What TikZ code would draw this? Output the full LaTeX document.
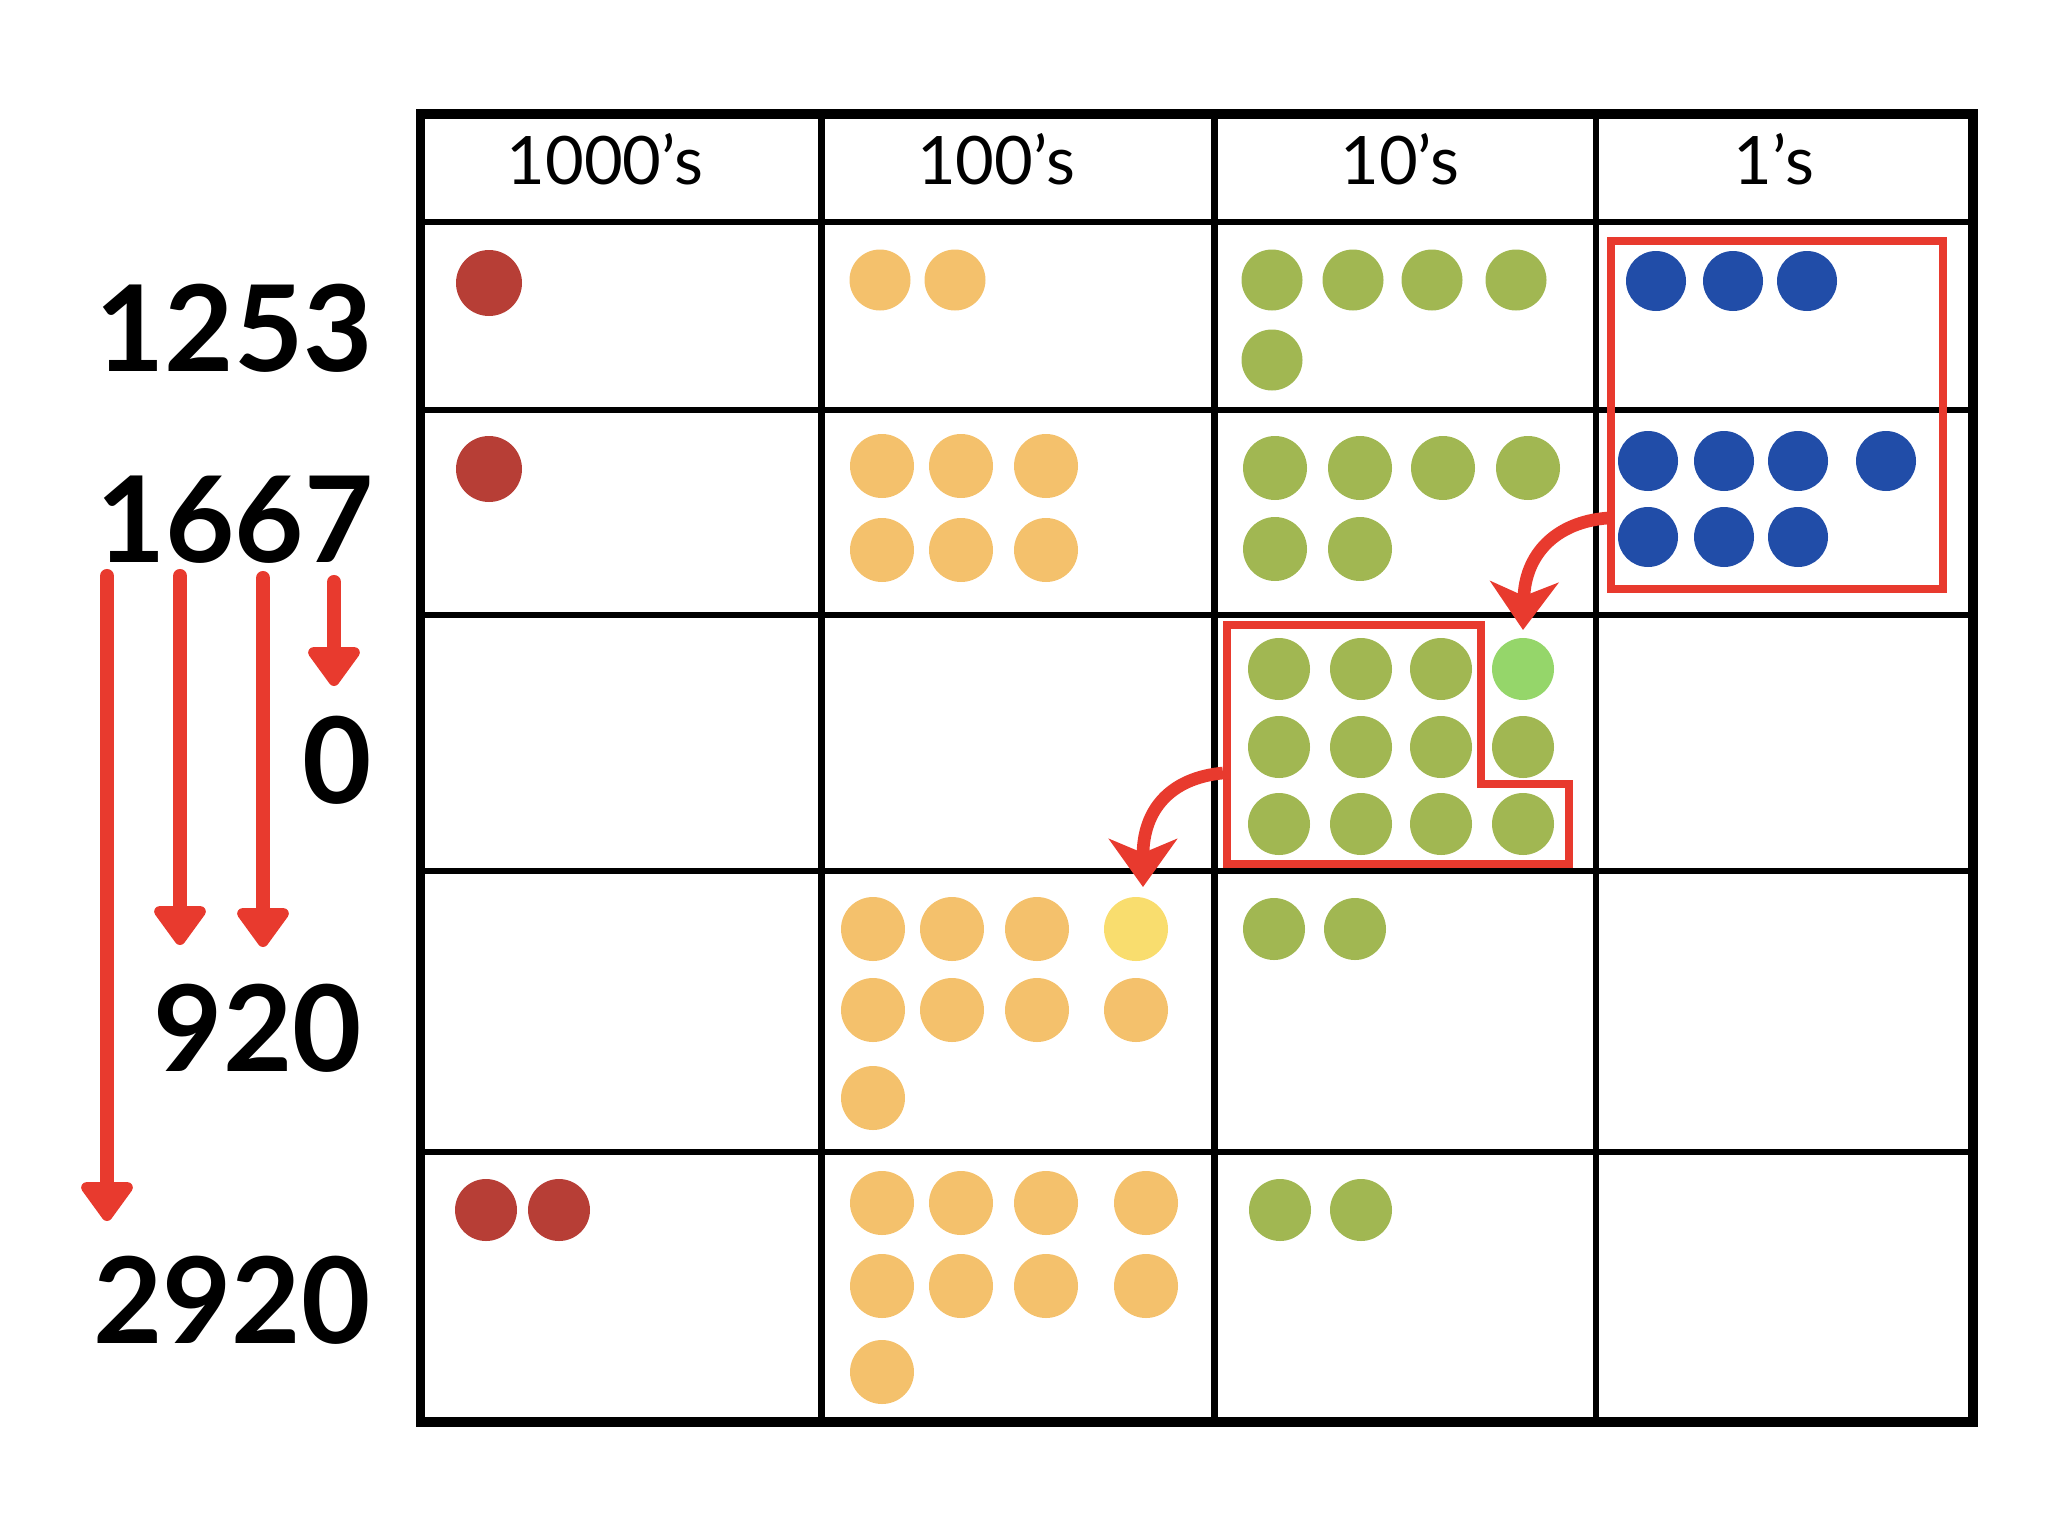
\documentclass[tikz,border=0pt]{standalone}
\usepackage{fontspec}
\setmainfont{Lato}
\usetikzlibrary{arrows.meta}

\definecolor{thoucol}{RGB}{183,62,54}
\definecolor{hundcol}{RGB}{244,193,108}
\definecolor{hundnew}{RGB}{249,221,110}
\definecolor{tenscol}{RGB}{161,183,82}
\definecolor{tensnew}{RGB}{149,214,106}
\definecolor{onescol}{RGB}{33,77,168}
\definecolor{markred}{RGB}{232,58,46}

\begin{document}
\begin{tikzpicture}[x=0.01cm,y=-0.01cm,
  gridline/.style={line width=1.9pt},
  frameline/.style={line width=2.6pt},
  groupbox/.style={draw=markred,line width=2.3pt},
  carry/.style={draw=markred,line width=3.6pt,-{Stealth[length=4.8mm,width=6.8mm,inset=1.4mm]}},
  digitarrow/.style={draw=markred,line width=4pt,line cap=round,-{Triangle[length=4.3mm,width=5.9mm,round]}},
  headlabel/.style={font=\fontsize{19}{20}\selectfont},
  numlabel/.style={font=\fontsize{34}{36}\selectfont\bfseries}]

\useasboundingbox (0,0) rectangle (2048,1536);

% place value table
\begin{scope}[gridline]
  \foreach \x in {821.5,1214.5,1596} \draw (\x,114) -- (\x,1422);
  \foreach \y in {222,410,615,871,1152} \draw (420.5,\y) -- (1973,\y);
\end{scope}
\draw[frameline] (420.5,114) rectangle (1973,1422);

\begin{scope}[every node/.style={headlabel}]
  \node (h1000) at (605,159) {1000's};
  \node (h100) at (996,159) {100's};
  \node (h10) at (1400,159) {10's};
  \node (h1) at (1774,159) {1's};
\end{scope}

% the numbers
\begin{scope}[every node/.style={numlabel}]
  \node (n1253) at (234,328) {1253};
  \node (n1667) at (235,520) {1667};
  \node (n0) at (337,760) {0};
  \node (n920) at (258,1028) {920};
  \node (n2920) at (232,1300) {2920};
\end{scope}

% 1253
\fill[thoucol] (489,283) circle (33);
\foreach \x in {880,955} \fill[hundcol] (\x,280) circle (30.5);
\foreach \x in {1272,1353,1432,1516} \fill[tenscol] (\x,280) circle (30.5);
\fill[tenscol] (1272,360) circle (30.5);
\foreach \x in {1656,1733,1807} \fill[onescol] (\x,281) circle (30);

% 1667
\fill[thoucol] (489,469) circle (33);
\foreach \x in {882,961,1046} {
  \fill[hundcol] (\x,466) circle (32);
  \fill[hundcol] (\x,550) circle (32);
}
\foreach \x in {1275,1360,1443,1528} \fill[tenscol] (\x,468) circle (32);
\foreach \x in {1275,1360} \fill[tenscol] (\x,549) circle (32);
\foreach \x in {1648,1724,1798,1886} \fill[onescol] (\x,461) circle (30);
\foreach \x in {1648,1724,1798} \fill[onescol] (\x,537) circle (30);

% regrouped tens
\foreach \x in {1279,1361,1441} \fill[tenscol] (\x,669) circle (31);
\fill[tensnew] (1523,669) circle (31);
\foreach \y in {747,824}
  \foreach \x in {1279,1361,1441,1523} \fill[tenscol] (\x,\y) circle (31);

% 920
\foreach \x in {873,952,1037} \fill[hundcol] (\x,929) circle (32);
\fill[hundnew] (1136,929) circle (32);
\foreach \x in {873,952,1037,1136} \fill[hundcol] (\x,1010) circle (32);
\fill[hundcol] (873,1098) circle (32);
\foreach \x in {1274,1355} \fill[tenscol] (\x,929) circle (31);

% 2920
\foreach \x in {486,559} \fill[thoucol] (\x,1210) circle (31);
\foreach \y in {1203,1286}
  \foreach \x in {882,961,1046,1146} \fill[hundcol] (\x,\y) circle (32);
\fill[hundcol] (882,1372) circle (32);
\foreach \x in {1280,1361} \fill[tenscol] (\x,1210) circle (31);

% groups and carries
\draw[groupbox] (1611,241) rectangle (1943,589);
\draw[groupbox] (1227,625) -- (1481,625) -- (1481,784) -- (1569,784)
  -- (1569,864) -- (1227,864) -- cycle;

\coordinate (c1s) at (1608,518);
\coordinate (c1e) at (1523,630);
\coordinate (c2s) at (1223,773);
\coordinate (c2e) at (1143,887);
\draw[carry] (c1s) .. controls (1555,522) and (1525,555) .. (c1e);
\draw[carry] (c2s) .. controls (1170,778) and (1143,810) .. (c2e);

% digit arrows
\coordinate (d1s) at (107,576);
\coordinate (d1e) at (107,1221);
\coordinate (d2s) at (180,576);
\coordinate (d2e) at (180,945);
\coordinate (d3s) at (263,578);
\coordinate (d3e) at (263,947);
\coordinate (d4s) at (334,582);
\coordinate (d4e) at (334,686);
\draw[digitarrow] (d1s) -- (d1e);
\draw[digitarrow] (d2s) -- (d2e);
\draw[digitarrow] (d3s) -- (d3e);
\draw[digitarrow] (d4s) -- (d4e);

\end{tikzpicture}
\end{document}
